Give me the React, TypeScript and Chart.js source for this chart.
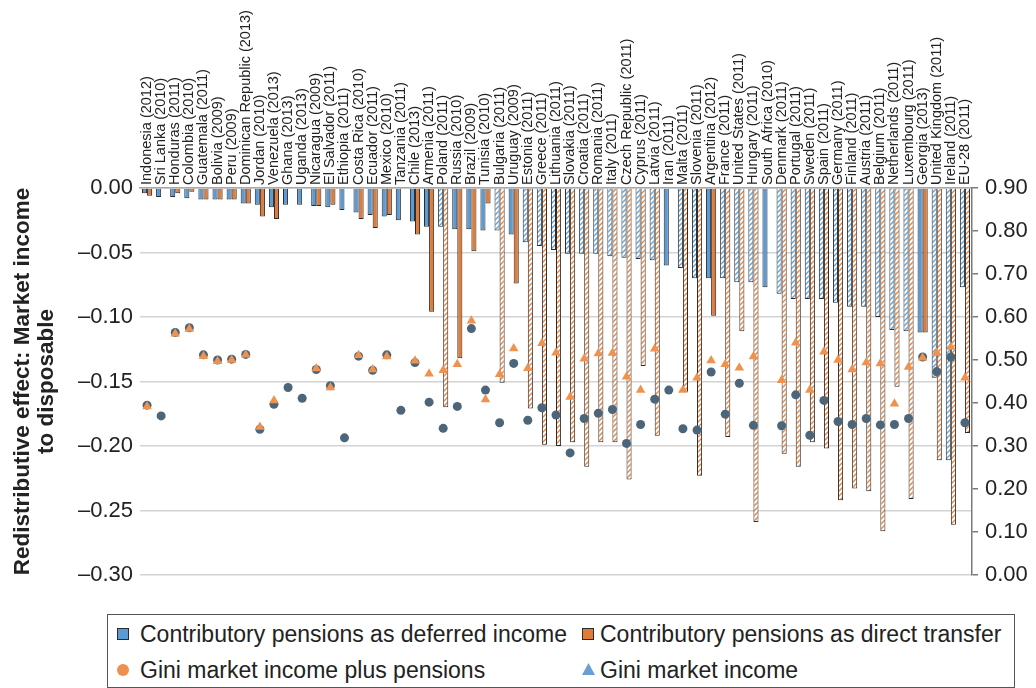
import React, { useEffect, useRef } from 'react';
import { Chart, registerables } from 'chart.js';

Chart.register(...registerables);

const categories = [
  'Indonesia (2012)', 'Sri Lanka (2010)', 'Honduras (2011)', 'Colombia (2010)', 'Guatemala (2011)',
  'Bolivia (2009)', 'Peru (2009)', 'Dominican Republic (2013)', 'Jordan (2010)', 'Venezuela (2013)',
  'Ghana (2013)', 'Uganda (2013)', 'Nicaragua (2009)', 'El Salvador (2011)', 'Ethiopia (2011)',
  'Costa Rica (2010)', 'Ecuador (2011)', 'Mexico (2010)', 'Tanzania (2011)', 'Chile (2013)',
  'Armenia (2011)', 'Poland (2011)', 'Russia (2010)', 'Brazil (2009)', 'Tunisia (2010)',
  'Bulgaria (2011)', 'Uruguay (2009)', 'Estonia (2011)', 'Greece (2011)', 'Lithuania (2011)',
  'Slovakia (2011)', 'Croatia (2011)', 'Romania (2011)', 'Italy (2011)', 'Czech Republic (2011)',
  'Cyprus (2011)', 'Latvia (2011)', 'Iran (2011)', 'Malta (2011)', 'Slovenia (2011)',
  'Argentina (2012)', 'France (2011)', 'United States (2011)', 'Hungary (2011)', 'South Africa (2010)',
  'Denmark (2011)', 'Portugal (2011)', 'Sweden (2011)', 'Spain (2011)', 'Germany (2011)',
  'Finland (2011)', 'Austria (2011)', 'Belgium (2011)', 'Netherlands (2011)', 'Luxembourg (2011)',
  'Georgia (2013)', 'United Kingdom (2011)', 'Ireland (2011)', 'EU-28 (2011)',
];

// Redistributive effect, contributory pensions as deferred income
const deferredIncome = [
  -0.004, -0.007, -0.007, -0.008, -0.009,
  -0.009, -0.009, -0.012, -0.013, -0.015,
  -0.013, -0.013, -0.014, -0.015, -0.017,
  -0.019, -0.021, -0.022, -0.025, -0.026,
  -0.030, -0.030, -0.032, -0.032, -0.033,
  -0.033, -0.036, -0.042, -0.045, -0.048,
  -0.051, -0.051, -0.051, -0.053, -0.054,
  -0.055, -0.056, -0.060, -0.062, -0.070,
  -0.070, -0.070, -0.073, -0.073, -0.077,
  -0.082, -0.086, -0.086, -0.086, -0.089,
  -0.092, -0.092, -0.100, -0.110, -0.111,
  -0.112, -0.147, -0.211, -0.077,
];

// Redistributive effect, contributory pensions as direct transfer
const directTransfer = [
  -0.006, null, -0.004, -0.003, -0.009,
  -0.009, -0.009, -0.012, -0.022, -0.024,
  null, null, -0.014, -0.013, null,
  -0.024, -0.031, -0.021, null, -0.036,
  -0.096, -0.170, -0.132, -0.049, -0.012,
  -0.151, -0.074, -0.171, -0.199, -0.200,
  -0.197, -0.216, -0.197, -0.197, -0.226,
  -0.138, -0.192, null, -0.158, -0.223,
  -0.099, -0.193, -0.111, -0.259, null,
  -0.206, -0.216, -0.197, -0.202, -0.242,
  -0.233, -0.235, -0.266, -0.154, -0.241,
  -0.112, -0.211, -0.261, -0.190,
];

// Data source flag (hatched bars in the original)
const alternativeSource = [
  false, false, false, false, false,
  false, false, false, false, false,
  false, false, false, false, false,
  false, false, false, false, false,
  false, true, false, false, false,
  true, false, true, true, true,
  true, true, true, true, true,
  true, true, false, true, true,
  false, true, true, true, false,
  true, true, true, true, true,
  true, true, true, true, true,
  false, true, true, true,
];

// Gini (right axis), dark circles in the plot
const giniMarketPlusPensions = [
  0.395, 0.370, 0.564, 0.575, 0.512,
  0.500, 0.502, 0.513, 0.339, 0.397,
  0.436, 0.411, 0.478, 0.440, 0.319,
  0.509, 0.476, 0.512, 0.383, 0.494,
  0.402, 0.341, 0.392, 0.573, 0.430,
  0.354, 0.492, 0.360, 0.389, 0.372,
  0.284, 0.364, 0.376, 0.385, 0.306,
  0.350, 0.409, 0.430, 0.340, 0.337,
  0.472, 0.374, 0.446, 0.348, null,
  0.347, 0.419, 0.325, 0.406, 0.357,
  0.350, 0.364, 0.349, 0.350, 0.364,
  0.507, 0.473, 0.507, 0.354,
];

// Gini (right axis), orange triangles in the plot
const giniMarket = [
  0.392, null, 0.561, 0.572, 0.509,
  0.497, 0.500, 0.512, 0.344, 0.406,
  null, null, 0.480, 0.436, null,
  0.511, 0.478, 0.508, null, 0.498,
  0.468, 0.476, 0.490, 0.591, 0.408,
  0.467, 0.527, 0.481, 0.539, 0.517,
  0.414, 0.503, 0.515, 0.516, 0.461,
  0.430, 0.526, null, 0.430, 0.459,
  0.499, 0.490, 0.482, 0.508, null,
  0.453, 0.540, 0.430, 0.519, 0.500,
  0.478, 0.494, 0.492, 0.398, 0.484,
  0.505, 0.517, 0.530, 0.459,
];

const legendLabels = [
  'Contributory pensions as deferred income',
  'Contributory pensions as direct transfer',
  'Gini market income plus pensions',
  'Gini market income',
];

const FONT = '"Liberation Sans", Arial, sans-serif';
const CAT_FONT_SIZE = 14.5;
const CAT_LINE_HEIGHT = 1.2;

function makeHatch(color: string): CanvasPattern | string {
  const size = 5;
  const c = document.createElement('canvas');
  c.width = size;
  c.height = size;
  const g = c.getContext('2d');
  if (!g) return color;
  g.fillStyle = '#ffffff';
  g.fillRect(0, 0, size, size);
  g.strokeStyle = color;
  g.lineWidth = 1.4;
  g.beginPath();
  g.moveTo(0, size);
  g.lineTo(size, 0);
  g.moveTo(-1, 1);
  g.lineTo(1, -1);
  g.moveTo(size - 1, size + 1);
  g.lineTo(size + 1, size - 1);
  g.stroke();
  return g.createPattern(c, 'repeat') || color;
}

export default function App() {
  const canvasRef = useRef<HTMLCanvasElement | null>(null);

  useEffect(() => {
    if (!canvasRef.current) return;
    const blue = '#5b9bd5';
    const orange = '#e07b39';
    const blueHatch = makeHatch('#5ea3dc');
    const orangeHatch = makeHatch('#e8843e');

    const chart = new Chart(canvasRef.current, {
      type: 'bar',
      data: {
        labels: categories,
        datasets: [
          {
            type: 'line',
            label: legendLabels[3],
            data: giniMarket,
            yAxisID: 'y2',
            showLine: false,
            pointStyle: 'triangle',
            pointRadius: 5.5,
            pointBackgroundColor: '#f0924f',
            pointBorderWidth: 0,
            order: 0,
          } as any,
          {
            type: 'line',
            label: legendLabels[2],
            data: giniMarketPlusPensions,
            yAxisID: 'y2',
            showLine: false,
            pointStyle: 'circle',
            pointRadius: 4.5,
            pointBackgroundColor: '#4d6579',
            pointBorderWidth: 0,
            order: 1,
          } as any,
          {
            type: 'bar',
            label: legendLabels[0],
            data: deferredIncome,
            yAxisID: 'y',
            backgroundColor: alternativeSource.map((h) => (h ? blueHatch : blue)),
            borderColor: '#2b2b2b',
            borderWidth: 1,
            barPercentage: 1,
            categoryPercentage: 0.72,
            order: 2,
          } as any,
          {
            type: 'bar',
            label: legendLabels[1],
            data: directTransfer,
            yAxisID: 'y',
            backgroundColor: alternativeSource.map((h) => (h ? orangeHatch : orange)),
            borderColor: '#2b2b2b',
            borderWidth: 1,
            barPercentage: 1,
            categoryPercentage: 0.72,
            order: 3,
          } as any,
        ],
      },
      options: {
        responsive: false,
        animation: false,
        layout: { padding: { top: 0, left: 0, right: 0, bottom: 25 } },
        plugins: {
          legend: { display: false },
          tooltip: { enabled: false },
          title: { display: false },
        },
        scales: {
          x: {
            type: 'category',
            position: 'top',
            offset: true,
            grid: { display: false, drawTicks: false },
            border: { display: true, color: '#a8a8a8', width: 1.5 },
            ticks: {
              autoSkip: false,
              maxRotation: 90,
              minRotation: 90,
              padding: 3,
              labelOffset: CAT_FONT_SIZE * CAT_LINE_HEIGHT,
              color: '#222',
              font: { family: FONT, size: CAT_FONT_SIZE, lineHeight: CAT_LINE_HEIGHT },
            },
            afterFit: (scale: any) => {
              scale.height = 188;
            },
          },
          y: {
            position: 'left',
            min: -0.3,
            max: 0,
            grid: { color: '#d3d3d3', lineWidth: 1.5, drawTicks: false },
            border: { display: false },
            ticks: {
              stepSize: 0.05,
              padding: 7,
              color: '#222',
              font: { family: FONT, size: 22 },
              callback: (v: any) => {
                const n = Number(v);
                if (Math.abs(n) < 1e-9) return '0.00';
                return (n < 0 ? '\u2013' : '') + Math.abs(n).toFixed(2);
              },
            },
            title: {
              display: true,
              text: ['Redistributive effect: Market income', 'to disposable'],
              color: '#222',
              font: { family: FONT, size: 22.5, weight: 'bold', lineHeight: 1.1 },
              padding: { top: 10, bottom: 0 },
            },
            afterFit: (scale: any) => {
              scale.width = 140;
            },
          },
          y2: {
            position: 'right',
            min: 0,
            max: 0.9,
            grid: { drawOnChartArea: false, drawTicks: true, tickLength: 6, color: '#7a7a7a', lineWidth: 1.5 },
            border: { display: true, color: '#7a7a7a', width: 1.5 },
            ticks: {
              stepSize: 0.1,
              padding: 7,
              color: '#222',
              font: { family: FONT, size: 22 },
              callback: (v: any) => Number(v).toFixed(2),
            },
            afterFit: (scale: any) => {
              scale.width = 64;
            },
          },
        },
      } as any,
    });

    return () => chart.destroy();
  }, []);

  const text: React.CSSProperties = {
    position: 'absolute',
    fontFamily: FONT,
    fontSize: 23,
    lineHeight: '26px',
    color: '#222',
    whiteSpace: 'nowrap',
  };
  const square = (left: number, top: number, fill: string): React.CSSProperties => ({
    position: 'absolute',
    left,
    top,
    width: 12,
    height: 12,
    boxSizing: 'border-box',
    border: '1.5px solid #2b2b2b',
    background: fill,
  });

  return (
    <div
      style={{
        position: 'fixed',
        left: 0,
        top: 0,
        width: 1036,
        height: 688,
        background: '#ffffff',
        overflow: 'hidden',
      }}
    >
      <canvas ref={canvasRef} width={1036} height={600} style={{ display: 'block' }} />
      <div
        style={{
          position: 'absolute',
          left: 107,
          top: 614,
          width: 908,
          height: 74,
          boxSizing: 'border-box',
          border: '1.5px solid #555',
        }}
      >
        <div style={square(9, 13, '#5b9bd5')} />
        <div style={{ ...text, left: 32, top: 6 }}>{legendLabels[0]}</div>
        <div style={square(474, 13, '#e07b39')} />
        <div style={{ ...text, left: 492, top: 6 }}>{legendLabels[1]}</div>
        <div
          style={{
            position: 'absolute',
            left: 9,
            top: 49,
            width: 12,
            height: 12,
            borderRadius: '50%',
            background: '#ee8f4f',
          }}
        />
        <div style={{ ...text, left: 32, top: 42 }}>{legendLabels[2]}</div>
        <svg style={{ position: 'absolute', left: 474, top: 48 }} width={13} height={12}>
          <polygon points="6.5,0 13,12 0,12" fill="#6a9fd2" />
        </svg>
        <div style={{ ...text, left: 492, top: 42 }}>{legendLabels[3]}</div>
      </div>
    </div>
  );
}
